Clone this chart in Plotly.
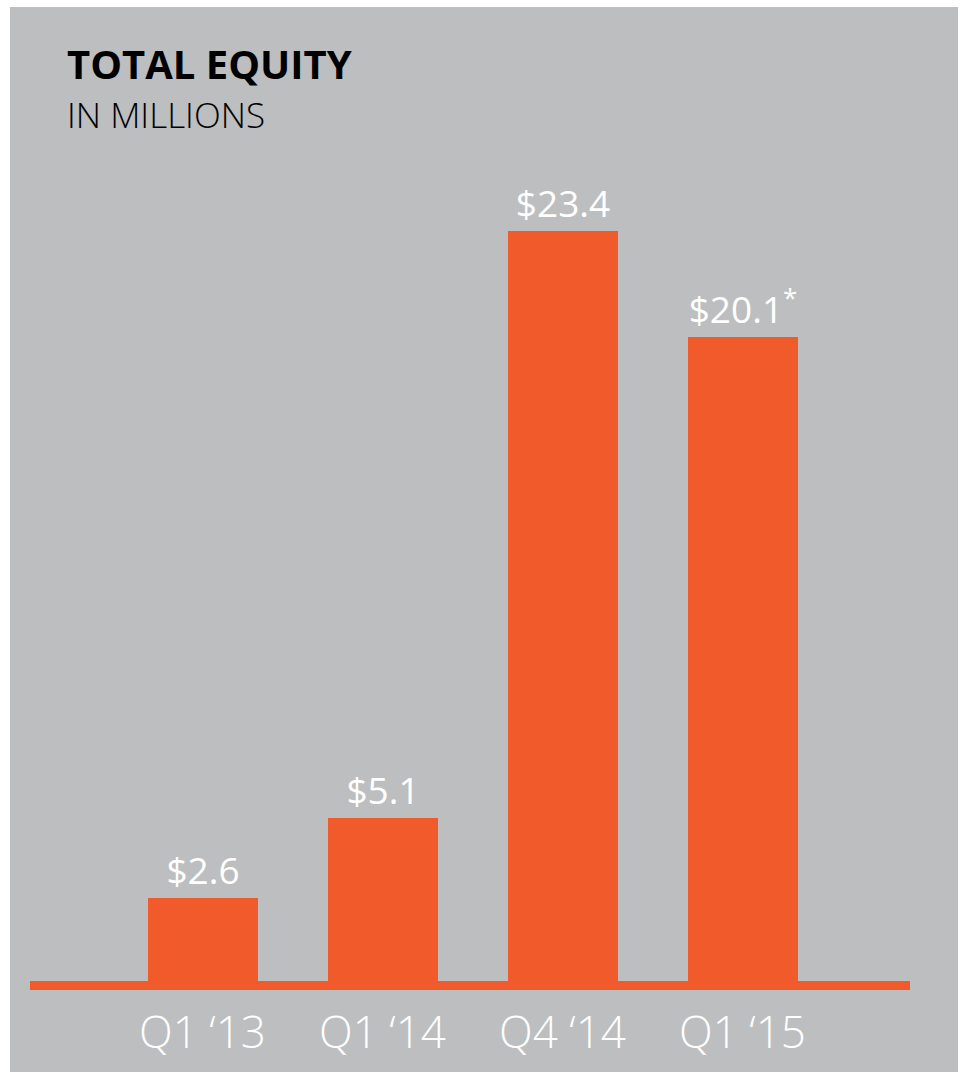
import plotly.graph_objects as go

# Total equity, in millions of dollars
quarters = ["Q1 \u201813", "Q1 \u201814", "Q4 \u201814", "Q1 \u201815"]
equity = [2.6, 5.1, 23.4, 20.1]
value_labels = ["$2.6", "$5.1", "$23.4", "$20.1<sup>*</sup>"]

ORANGE = "#F15A2B"
GREY = "#BDBEC0"

W, H = 960, 1077
M_L, M_R, M_T, M_B = 30, 50, 150, 96
plot_w = W - M_L - M_R
plot_h = H - M_T - M_B
px_per_unit = 32.05
slot_px = 180.0


def px_to_paper_x(px):
    return (px - M_L) / plot_w


def px_to_paper_y(py):
    return (H - M_B - py) / plot_h


x_pos = list(range(len(quarters)))

fig = go.Figure(
    go.Bar(
        x=x_pos,
        y=equity,
        width=110 / slot_px,
        marker=dict(color=ORANGE, line=dict(width=0)),
        text=value_labels,
        textposition="outside",
        textfont=dict(family="Open Sans", size=37, color="white"),
        constraintext="none",
        cliponaxis=False,
        hoverinfo="skip",
    )
)

# grey panel framed by a thin white border
fig.add_shape(
    type="rect",
    xref="paper", yref="paper",
    x0=px_to_paper_x(10), x1=px_to_paper_x(958),
    y0=px_to_paper_y(1072), y1=px_to_paper_y(7),
    fillcolor=GREY, line=dict(width=0), layer="below",
)

fig.add_annotation(
    text="<b>TOTAL EQUITY</b>",
    xref="paper", yref="paper",
    x=px_to_paper_x(65), y=px_to_paper_y(63),
    xanchor="left", yanchor="middle", showarrow=False,
    font=dict(family="Open Sans", size=40, color="black"),
)
fig.add_annotation(
    text="IN MILLIONS",
    xref="paper", yref="paper",
    x=px_to_paper_x(65), y=px_to_paper_y(114),
    xanchor="left", yanchor="middle", showarrow=False,
    font=dict(family="Open Sans", size=35, color="black", weight=300),
)

left_units = -(202.5 - M_L) / slot_px
fig.update_xaxes(
    range=[left_units, left_units + plot_w / slot_px],
    tickmode="array", tickvals=x_pos, ticktext=quarters,
    tickfont=dict(family="Open Sans", size=44, color="white", weight=300),
    showline=True, linecolor=ORANGE, linewidth=9,
    showgrid=False, zeroline=False, ticks="", ticklabelstandoff=5,
    automargin=False, fixedrange=True,
)
fig.update_yaxes(
    range=[0, plot_h / px_per_unit],
    visible=False, showgrid=False, zeroline=False,
    automargin=False, fixedrange=True,
)

fig.update_layout(
    width=W, height=H,
    margin=dict(l=M_L, r=M_R, t=M_T, b=M_B, pad=0, autoexpand=False),
    paper_bgcolor="white", plot_bgcolor="rgba(0,0,0,0)",
    showlegend=False, bargap=0,
)

fig.write_html("out.html")
